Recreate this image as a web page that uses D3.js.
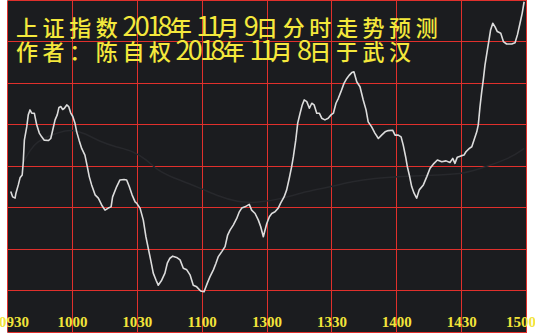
<!DOCTYPE html>
<html lang="zh">
<head>
    <meta charset="utf-8">
    <title>上证指数分时走势预测</title>
    <script type="text/javascript" src="https://d3js.org/d3.v7.min.js"></script>
    <style>
        body { margin: 0; background: #ffffff; }
    </style>
</head>
<body>
    <div class="chart"></div>
    <script type="text/javascript">
        // x axis labels (one every 30 trading minutes)
        const timeLabels = ["0930", "1000", "1030", "1100", "1300", "1330", "1400", "1430", "1500"];

        const titleLines = [
            "上证指数2018年11月9日分时走势预测",
            "作者：陈自权2018年11月8日于武汉"
        ];

        // [trading minute from 09:30, index value]
        const priceLine = [
            [1.5, 2613.9], [2.4, 2612.6], [3.5, 2612.3], [3.9, 2613.5], [5.0, 2615.5], [5.8, 2617.2],
            [6.8, 2617.9], [7.3, 2621.1], [7.8, 2626.3], [8.9, 2629.5], [9.6, 2632.4], [10.4, 2633.6],
            [11.2, 2632.8], [12.4, 2632.8], [13.5, 2630.0], [14.7, 2628.0], [15.8, 2627.1], [17.0, 2626.3],
            [18.9, 2626.2], [20.0, 2626.7], [20.9, 2628.7], [22.0, 2631.2], [23.0, 2632.4], [23.8, 2634.2],
            [24.7, 2634.4], [25.5, 2633.7], [26.3, 2634.0], [27.4, 2634.8], [28.3, 2634.4], [29.2, 2632.9],
            [30.2, 2632.0], [31.2, 2630.4], [32.0, 2628.3], [33.1, 2626.3], [34.3, 2624.3], [35.8, 2622.7],
            [36.9, 2619.9], [37.8, 2617.5], [38.9, 2615.5], [40.5, 2613.1], [42.0, 2612.3], [43.6, 2610.6],
            [45.1, 2609.4], [46.6, 2609.9], [47.9, 2610.2], [48.6, 2612.6], [50.5, 2615.1], [52.0, 2616.7],
            [53.9, 2616.8], [55.1, 2616.7], [56.3, 2615.1], [57.6, 2613.1], [59.0, 2611.4], [59.7, 2611.1],
            [61.3, 2609.9], [62.8, 2607.0], [64.0, 2603.0], [65.1, 2600.2], [66.2, 2597.4], [67.4, 2594.2],
            [68.7, 2592.5], [69.7, 2591.3], [71.3, 2592.5], [72.8, 2594.2], [73.9, 2596.6], [75.1, 2597.8],
            [76.4, 2598.3], [78.2, 2598.0], [79.8, 2597.4], [81.3, 2595.4], [82.9, 2595.0], [84.4, 2593.8],
            [85.9, 2591.3], [87.5, 2590.9], [89.3, 2589.9], [90.9, 2589.7], [92.4, 2591.8], [93.6, 2593.3],
            [95.2, 2595.0], [96.4, 2596.6], [97.5, 2598.2], [99.1, 2599.4], [100.6, 2600.6], [101.8, 2603.4],
            [102.9, 2604.6], [104.4, 2605.8], [106.0, 2607.4], [107.2, 2609.0], [108.3, 2609.9], [109.8, 2610.2],
            [111.8, 2610.8], [112.9, 2609.4], [114.5, 2608.6], [116.0, 2607.0], [117.1, 2605.4], [118.3, 2603.0],
            [119.1, 2604.6], [119.9, 2606.2], [121.1, 2607.8], [122.2, 2608.6], [123.7, 2609.0], [125.2, 2609.9],
            [126.3, 2611.1], [127.9, 2612.6], [129.1, 2614.3], [130.3, 2617.1], [131.4, 2619.9], [132.2, 2622.3],
            [133.3, 2626.3], [134.2, 2630.4], [135.3, 2632.8], [136.3, 2634.8], [137.2, 2636.0], [138.4, 2635.6],
            [139.6, 2634.0], [140.7, 2635.2], [141.8, 2634.8], [143.0, 2632.8], [144.2, 2632.8], [145.3, 2631.6],
            [146.8, 2631.2], [148.3, 2631.6], [149.6, 2632.4], [150.7, 2632.8], [151.9, 2635.2], [153.0, 2636.4],
            [154.2, 2638.0], [155.6, 2640.0], [156.9, 2641.2], [158.1, 2642.0], [159.2, 2642.6], [160.2, 2642.8],
            [161.5, 2640.4], [163.0, 2639.2], [164.5, 2636.0], [165.8, 2633.6], [166.8, 2630.7], [168.4, 2629.5],
            [169.9, 2628.0], [171.5, 2626.7], [173.0, 2627.5], [174.6, 2628.3], [176.1, 2628.6], [178.1, 2628.7],
            [179.2, 2627.5], [180.7, 2627.5], [182.0, 2627.1], [183.0, 2625.1], [184.1, 2622.3], [184.9, 2619.9],
            [185.8, 2617.9], [186.9, 2615.1], [188.0, 2613.5], [189.2, 2612.3], [190.4, 2614.3], [192.3, 2615.5],
            [193.9, 2617.5], [195.4, 2619.5], [196.9, 2620.5], [198.8, 2621.5], [200.8, 2621.1], [202.8, 2621.3],
            [204.6, 2620.9], [205.9, 2621.9], [206.9, 2620.7], [208.0, 2622.2], [209.7, 2622.5], [211.1, 2622.7],
            [212.0, 2623.5], [213.6, 2624.3], [214.7, 2624.7], [215.7, 2626.3], [217.0, 2628.3], [217.7, 2630.0],
            [218.5, 2634.4], [219.3, 2638.0], [220.0, 2640.8], [220.8, 2644.4], [221.9, 2648.0], [222.8, 2650.9],
            [223.4, 2652.9], [224.4, 2654.5], [225.4, 2653.7], [226.5, 2652.5], [228.1, 2652.1], [229.3, 2650.1],
            [230.8, 2649.5], [233.2, 2649.5], [234.7, 2649.8], [235.8, 2651.7], [237.0, 2654.5], [238.0, 2656.9],
            [238.9, 2659.7]
        ];

        // faint average price line
        const avgLine = [
            [7.2, 2620.8], [10.4, 2623.9], [13.5, 2625.9], [19.7, 2627.5], [27.5, 2628.7], [29.8, 2628.7],
            [35.8, 2628.0], [42.8, 2625.9], [50.6, 2624.6], [58.0, 2623.7], [64.5, 2621.5], [69.1, 2619.1],
            [76.5, 2617.2], [87.6, 2615.1], [98.3, 2612.6], [106.1, 2611.4], [115.4, 2611.1], [128.3, 2612.3],
            [137.6, 2613.9], [150.1, 2615.1], [159.3, 2616.3], [169.9, 2617.1], [180.6, 2617.5], [200.9, 2617.9],
            [211.6, 2618.3], [219.4, 2619.6], [232.4, 2621.9], [238.9, 2624.3]
        ];

        const W = 535, H = 333;
        const plot = {left: 7.5, right: 526.5, top: 0.5, bottom: 332};

        const xScale = d3.scaleLinear()
            .domain([0, 240])
            .range([plot.left, plot.right]);
        const yScale = d3.scaleLinear()
            .domain([2580, 2660])
            .range([plot.bottom, plot.top]);

        const svg = d3.select('.chart')
            .append('svg')
            .attr('width', W)
            .attr('height', H)
            .style('display', 'block');

        // dark plot background (white margins left and right)
        svg.append('rect')
            .attr('x', xScale(0))
            .attr('y', 0)
            .attr('width', xScale(240) - xScale(0))
            .attr('height', H)
            .attr('fill', '#1b1c1f');

        // red grid
        const grid = svg.append('g')
            .attr('stroke', '#e0302c')
            .attr('stroke-width', 1)
            .attr('shape-rendering', 'crispEdges');

        grid.selectAll('line.v')
            .data(d3.range(0, 241, 30))
            .enter()
            .append('line')
            .attr('class', 'v')
            .attr('x1', d => xScale(d))
            .attr('x2', d => xScale(d))
            .attr('y1', yScale(2660))
            .attr('y2', yScale(2580));

        grid.selectAll('line.h')
            .data(d3.range(2580, 2661, 10))
            .enter()
            .append('line')
            .attr('class', 'h')
            .attr('x1', xScale(0))
            .attr('x2', xScale(240))
            .attr('y1', d => yScale(d))
            .attr('y2', d => yScale(d));

        const line = d3.line()
            .x(d => xScale(d[0]))
            .y(d => yScale(d[1]));

        svg.append('path')
            .datum(avgLine)
            .attr('d', line.curve(d3.curveBasis))
            .attr('fill', 'none')
            .attr('stroke', '#27282c')
            .attr('stroke-width', 1.5);

        svg.append('path')
            .datum(priceLine)
            .attr('d', line.curve(d3.curveLinear))
            .attr('fill', 'none')
            .attr('stroke', '#dcdcdc')
            .attr('stroke-width', 1.6)
            .attr('stroke-linejoin', 'round');

        // title: wide CJK cells, tall narrow digits ("1" a bit narrower)
        const advance = c => c === '1' ? 10.5 : /[0-9]/.test(c) ? 12.25 : 26.6;

        titleLines.forEach((txt, i) => {
            const t = svg.append('text')
                .attr('y', 35.5 + i * 24.5)
                .attr('font-family', '"Noto Sans CJK SC", sans-serif')
                .attr('font-weight', 500)
                .attr('font-size', 22)
                .attr('fill', '#f4e83c');
            let x = 16;
            txt.match(/[0-9]+|[^0-9]+/g).forEach(run => {
                const xs = [];
                for (const c of run) {
                    xs.push(x.toFixed(1));
                    x += advance(c);
                }
                const span = t.append('tspan')
                    .attr('x', xs.join(' '))
                    .text(run);
                if (/^[0-9]/.test(run)) {
                    span.attr('font-family', '"Liberation Sans Narrow", "Noto Sans CJK SC", sans-serif')
                        .attr('font-weight', 'normal')
                        .attr('font-size', 27);
                }
            });
        });

        // time labels
        const last = timeLabels.length - 1;
        svg.append('g')
            .selectAll('text')
            .data(timeLabels)
            .enter()
            .append('text')
            .attr('x', (d, i) => i === 0 ? -1 : i === last ? W + 1 : xScale(i * 30))
            .attr('y', 327)
            .attr('text-anchor', (d, i) => i === 0 ? 'start' : i === last ? 'end' : 'middle')
            .attr('font-family', '"Liberation Serif", serif')
            .attr('font-weight', 'bold')
            .attr('font-size', 15)
            .attr('fill', '#f2e43a')
            .text(d => d);
    </script>
</body>
</html>
